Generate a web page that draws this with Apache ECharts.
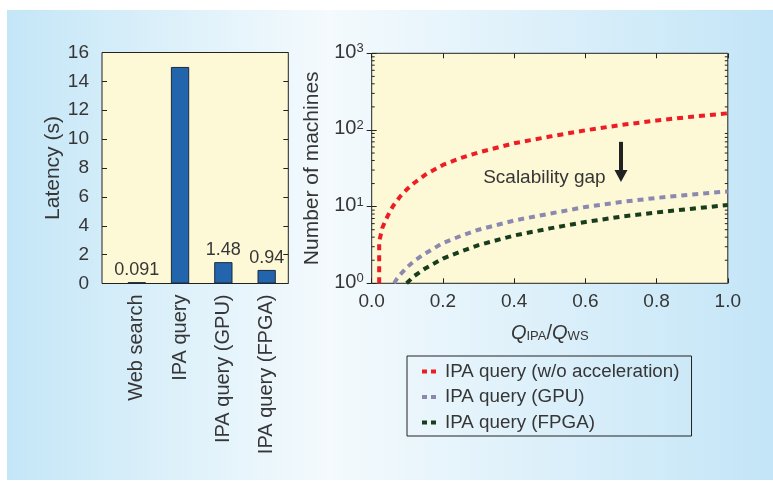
<!DOCTYPE html>
<html><head><meta charset="utf-8">
<script src="https://cdn.jsdelivr.net/npm/echarts@6/dist/echarts.min.js"></script>
<style>html,body{margin:0;padding:0;background:#fff}#c{width:773px;height:482px}</style>
</head><body><div id="c"></div>
<script>
// ---- Left chart data ----
const barCategories = ['Web search', 'IPA query', 'IPA query (GPU)', 'IPA query (FPGA)'];
const barValues = [0.091, 15, 1.48, 0.94];
const barValueLabels = ['0.091', '', '1.48', '0.94'];

// ---- Right chart data ----
const seriesNames = ['IPA query (w/o acceleration)', 'IPA query (GPU)', 'IPA query (FPGA)'];
const xRed  = [0.021, 0.021, 0.03, 0.04, 0.05, 0.06, 0.08, 0.10, 0.12, 0.15, 0.20, 0.25, 0.30, 0.40, 0.50, 0.60, 0.70, 0.80, 0.90, 1.00];
const yRed  = [1, 3.5, 5.3, 6.8, 8.4, 10.2, 13.6, 17, 20.5, 26, 35, 43, 51, 67, 82, 99, 116, 133, 149, 165];
const xGpu  = [0.063, 0.07, 0.08, 0.10, 0.12, 0.15, 0.20, 0.25, 0.30, 0.40, 0.50, 0.60, 0.70, 0.80, 0.90, 1.00];
const yGpu  = [1, 1.13, 1.3, 1.63, 1.97, 2.45, 3.35, 4.15, 5.0, 6.6, 8.1, 9.9, 11.5, 13.0, 14.4, 15.8];
const xFpga = [0.098, 0.10, 0.12, 0.15, 0.20, 0.25, 0.30, 0.40, 0.50, 0.60, 0.70, 0.80, 0.90, 1.00];
const yFpga = [1, 1.03, 1.25, 1.56, 2.1, 2.6, 3.15, 4.2, 5.2, 6.3, 7.4, 8.4, 9.4, 10.5];

// annotation
const gapLabel = 'Scalability gap';
const gapLabelAt = [0.485, 24];
const arrowFrom = [0.7, 70];
const arrowTo = [0.7, 25];

const FONT = '"Liberation Sans", Arial, Helvetica, sans-serif';
const TXT = '#363636';
const FRAME = '#222';
const PLOTBG = '#fdf8d6';
const colors = ['#ee1d25', '#8c89b0', '#173d1d'];

const zip = (xs, ys) => xs.map((x, i) => [x, ys[i]]);
const curves = [zip(xRed, yRed), zip(xGpu, yGpu), zip(xFpga, yFpga)];

// log minor tick positions
const minorVals = [];
[1, 10, 100].forEach(d => { for (let k = 2; k <= 9; k++) minorVals.push(k * d); });

const chart = echarts.init(document.getElementById('c'), null, {renderer: 'canvas'});

const tickStyle = {show: true, inside: true, length: 5, lineStyle: {color: FRAME, width: 1}};

const option = {
  backgroundColor: '#fff',
  animation: false,
  textStyle: {fontFamily: FONT, color: TXT},
  graphic: [{
    type: 'rect', z: -100, silent: true,
    shape: {x: 7, y: 10, width: 766, height: 470},
    style: {fill: new echarts.graphic.LinearGradient(0, 0, 1, 0, [
      {offset: 0, color: '#c4e6f7'},
      {offset: 0.42, color: '#f4fafd'},
      {offset: 1, color: '#c3e5f7'}
    ])}
  }],
  grid: [
    {left: 102, top: 52.5, right: 484.7, height: 231, show: true, backgroundColor: PLOTBG, borderColor: FRAME, borderWidth: 1},
    {left: 115.1, top: 52.5, right: 484.7, height: 231, show: false},
    {left: 371.7, top: 53.3, right: 45.2, height: 230, show: true, backgroundColor: PLOTBG, borderColor: FRAME, borderWidth: 1}
  ],
  xAxis: [
    {gridIndex: 0, type: 'value', min: 0, max: 1, show: false},
    {gridIndex: 1, type: 'category', data: barCategories,
      axisLine: {show: false}, axisTick: {show: false},
      axisLabel: {rotate: 90, fontSize: 20, color: TXT, margin: 11, fontFamily: FONT}},
    {gridIndex: 2, type: 'value', min: 0, max: 1, interval: 0.2, position: 'bottom',
      axisLine: {show: false}, axisTick: tickStyle, splitLine: {show: false},
      axisLabel: {fontSize: 19, color: TXT, margin: 9, fontFamily: FONT, formatter: v => v.toFixed(1)},
      name: '{q|Q}{s|IPA}{n|/}{q|Q}{s|WS}', nameLocation: 'middle', nameGap: 40,
      nameTextStyle: {color: TXT, fontFamily: FONT, rich: {
        q: {fontSize: 20, fontStyle: 'italic', lineHeight: 20, verticalAlign: 'top', color: TXT, fontFamily: FONT},
        n: {fontSize: 20, lineHeight: 20, verticalAlign: 'top', color: TXT, fontFamily: FONT},
        s: {fontSize: 13, lineHeight: 8, verticalAlign: 'bottom', color: TXT, fontFamily: FONT}
      }}},
    {gridIndex: 2, type: 'value', min: 0, max: 1, interval: 0.2, position: 'top',
      axisLine: {show: false}, axisTick: tickStyle, axisLabel: {show: false}, splitLine: {show: false}}
  ],
  yAxis: [
    {gridIndex: 0, type: 'value', min: 0, max: 16, interval: 2, position: 'left',
      axisLine: {show: false}, axisTick: tickStyle, splitLine: {show: false},
      axisLabel: {fontSize: 19, color: TXT, margin: 13, fontFamily: FONT},
      name: 'Latency (s)', nameLocation: 'middle', nameGap: 38,
      nameTextStyle: {fontSize: 21, color: TXT, fontFamily: FONT}},
    {gridIndex: 0, type: 'value', min: 0, max: 16, interval: 2, position: 'right',
      axisLine: {show: false}, axisTick: tickStyle, axisLabel: {show: false}, splitLine: {show: false}},
    {gridIndex: 1, type: 'value', min: 0, max: 16, show: false},
    {gridIndex: 2, type: 'log', logBase: 10, min: 1, max: 1000, position: 'left',
      axisLine: {show: false}, axisTick: tickStyle, splitLine: {show: false},
      axisLabel: {margin: 8, formatter: v => '{b|10}{s|' + Math.round(Math.log10(v)) + '}',
        rich: {
          b: {fontSize: 20, lineHeight: 22, verticalAlign: 'top', color: TXT, fontFamily: FONT},
          s: {fontSize: 13, lineHeight: 17, verticalAlign: 'top', color: TXT, fontFamily: FONT}
        }},
      name: 'Number of machines', nameLocation: 'middle', nameGap: 49,
      nameTextStyle: {fontSize: 21, color: TXT, fontFamily: FONT}},
    {gridIndex: 2, type: 'log', logBase: 10, min: 1, max: 1000, position: 'right',
      axisLine: {show: false}, axisTick: tickStyle, axisLabel: {show: false}, splitLine: {show: false}}
  ],
  legend: {
    data: seriesNames, orient: 'vertical', left: 407, top: 356,
    padding: [6, 12, 4, 15], itemGap: 6.5, itemWidth: 14, itemHeight: 4,
    borderColor: FRAME, borderWidth: 1, backgroundColor: 'transparent',
    icon: 'path://M0,0h5v4h-5zM9,0h5v4h-5z',
    textStyle: {fontSize: 18.8, lineHeight: 17, color: TXT, fontFamily: FONT, padding: [0, 0, 0, 4]}
  },
  series: [
    {type: 'bar', xAxisIndex: 1, yAxisIndex: 2, data: barValues.map((v, i) => ({value: v,
        label: {show: barValueLabels[i] !== ''}})),
      barWidth: 18.3,
      itemStyle: {color: '#2365ad', borderColor: '#1c2b3d', borderWidth: 1},
      label: {position: 'top', distance: 3, fontSize: 18, color: TXT, fontFamily: FONT,
        formatter: p => barValueLabels[p.dataIndex]}},
    ...curves.map((d, i) => ({
      type: 'line', name: seriesNames[i], xAxisIndex: 2, yAxisIndex: 3, data: d,
      showSymbol: false, symbol: 'none', smooth: false,
      itemStyle: {color: colors[i]},
      lineStyle: {color: colors[i], width: 4, type: [6, 5], cap: 'butt'},
      z: 3
    })),
    {type: 'custom', xAxisIndex: 2, yAxisIndex: 3, silent: true, clip: false,
      data: minorVals.map(v => [0, v]), encode: {x: 0, y: 1},
      renderItem: (params, api) => {
        const v = api.value(1);
        const a = api.coord([0, v]);
        const b = api.coord([1, v]);
        return {type: 'group', children: [
          {type: 'line', shape: {x1: a[0], y1: a[1], x2: a[0] + 3, y2: a[1]}, style: {stroke: FRAME, lineWidth: 1}},
          {type: 'line', shape: {x1: b[0] - 3, y1: b[1], x2: b[0], y2: b[1]}, style: {stroke: FRAME, lineWidth: 1}}
        ]};
      }},
    {type: 'line', xAxisIndex: 2, yAxisIndex: 3, data: [], silent: true,
      markLine: {silent: true, symbol: ['none', 'triangle'], symbolSize: [13, 12],
        lineStyle: {color: '#222', width: 4, type: 'solid'}, label: {show: false},
        data: [[{coord: arrowFrom}, {coord: arrowTo}]]},
      markPoint: {silent: true, symbol: 'circle', symbolSize: 0,
        label: {show: true, position: 'inside', formatter: gapLabel, fontSize: 19, color: TXT, fontFamily: FONT},
        data: [{coord: gapLabelAt}]}}
  ]
};
chart.setOption(option);
</script></body></html>
